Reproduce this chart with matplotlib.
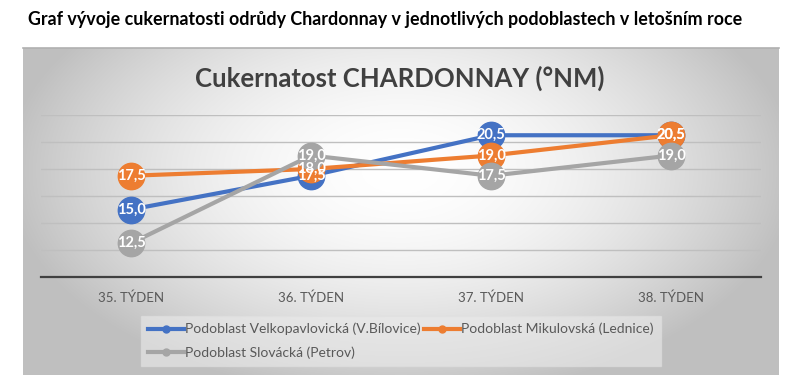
import numpy as np
import matplotlib
matplotlib.use("Agg")
import matplotlib.pyplot as plt
from matplotlib.lines import Line2D

categories = ["35. TÝDEN", "36. TÝDEN", "37. TÝDEN", "38. TÝDEN"]
velkopavlovicka = [15.0, 17.5, 20.5, 20.5]
mikulovska = [17.5, 18.0, 19.0, 20.5]
slovacka = [12.5, 19.0, 17.5, 19.0]
series_names = ["Podoblast Velkopavlovická (V.Bílovice)",
                "Podoblast Mikulovská (Lednice)",
                "Podoblast Slovácká (Petrov)"]
colors = ["#4472C4", "#ED7D31", "#A5A5A5"]
outer_title = "Graf vývoje cukernatosti odrůdy Chardonnay v jednotlivých podoblastech v letošním roce"
chart_title = "Cukernatost CHARDONNAY (°NM)"

FONT = ["Lato", "DejaVu Sans"]
plt.rcParams['font.family'] = FONT

W, H = 797, 384
fig = plt.figure(figsize=(W / 100, H / 100), dpi=100)
fig.patch.set_facecolor("white")

def fx(px):
    return px / W

def fy(py):
    return 1 - py / H

# chart area with radial gradient background
cx0, cy0, cx1, cy1 = 23, 48, 779, 375
bg = fig.add_axes([fx(cx0), fy(cy1), fx(cx1 - cx0), (cy1 - cy0) / H])
nx, ny = 400, 180
xx, yy = np.meshgrid(np.linspace(-1, 1, nx), np.linspace(-1, 1, ny))
r = np.sqrt((xx * 1.0) ** 2 + ((yy + 0.25) * 0.75) ** 2)
r = np.clip(r / 1.05, 0, 1)
val = 1.0 - 0.25 * r ** 1.8
img = np.dstack([val, val, val])
bg.imshow(img, aspect="auto", extent=[0, 1, 0, 1], interpolation="bilinear")
bg.set_axis_off()
bg.plot([0, 1], [1, 1], color="#B0B0B0", lw=1.2, transform=bg.transAxes, clip_on=False)

fig.text(fx(28), fy(20), outer_title, fontsize=12.9, fontweight="bold",
         color="black", va="center", ha="left", family=FONT)
fig.text(fx(400), fy(78), chart_title, fontsize=18.5, fontweight="bold",
         color="#404040", va="center", ha="center", family=FONT)

ax = fig.add_axes([fx(41), fy(277), fx(761 - 41), (277 - 115) / H])
ax.set_facecolor("none")
x = np.arange(len(categories))
ax.set_xlim(-0.5, len(categories) - 0.5)
ax.set_ylim(10, 22)
ax.set_yticks(np.arange(12, 23, 2))
ax.yaxis.grid(True, color="#BFBFBF", lw=1)
ax.set_axisbelow(True)
ax.tick_params(axis="y", left=False, labelleft=False)
ax.tick_params(axis="x", bottom=False, labelsize=9.5, labelcolor="#595959", pad=7)
ax.set_xticks(x)
ax.set_xticklabels(categories)
for s in ["top", "right", "left"]:
    ax.spines[s].set_visible(False)
ax.spines["bottom"].set_color("#404040")
ax.spines["bottom"].set_linewidth(1.6)

all_series = [velkopavlovicka, mikulovska, slovacka]
for i, (vals, c) in enumerate(zip(all_series, colors)):
    ax.plot(x, vals, color=c, lw=3, marker="o", markersize=19,
            markerfacecolor=c, markeredgecolor=c, zorder=3 + i, clip_on=False)
for i, vals in enumerate(all_series):
    for xi, v in zip(x, vals):
        ax.text(xi, v, f"{v:.1f}".replace(".", ","), color="white",
                fontsize=10.5, fontweight="bold", ha="center", va="center",
                zorder=10, family=FONT)

handles = [Line2D([0], [0], color=c, lw=3, marker="o", markersize=5) for c in colors]
order = [0, 2, 1]
leg = fig.legend([handles[k] for k in order], [series_names[k] for k in order],
                 ncol=2, loc="upper left", bbox_to_anchor=(fx(134), fy(309)),
                 frameon=True, handlelength=2.6, handletextpad=0.1,
                 columnspacing=0.2, labelspacing=0.8, borderpad=0.5,
                 fancybox=False, prop={"family": FONT, "size": 10})
leg.get_frame().set_facecolor("#EBEBEB")
leg.get_frame().set_edgecolor("#E0E0E0")
leg.get_frame().set_alpha(0.6)
for t in leg.get_texts():
    t.set_color("#595959")

fig.savefig("out.png", dpi=100, facecolor="white")
